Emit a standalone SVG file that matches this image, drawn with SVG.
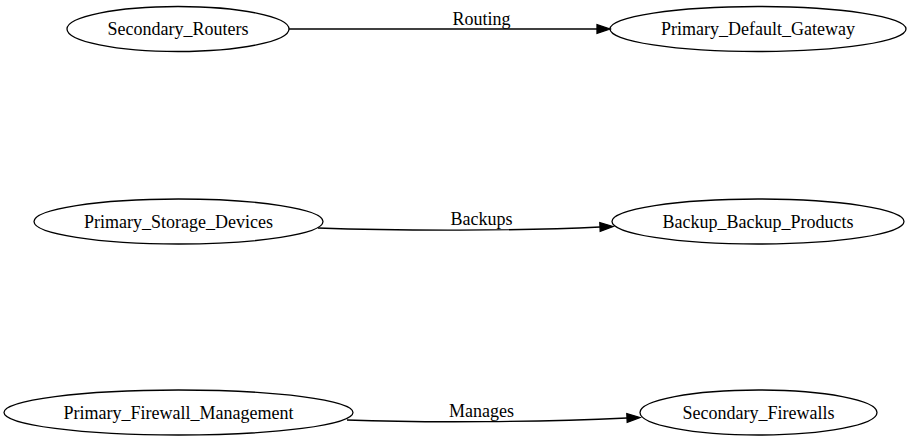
<svg xmlns="http://www.w3.org/2000/svg" width="911" height="443" viewBox="0 0 911 443">
  <style>
    .node ellipse { fill: none; stroke: #000; stroke-width: 1.3; }
    .node text, .edge text { font-family: "Liberation Serif", "Times New Roman", serif; font-size: 18px; fill: #000; text-anchor: middle; }
    .edge path { fill: none; stroke: #000; stroke-width: 1.3; }
    .edge polygon { fill: #000; stroke: #000; stroke-width: 1.3; }
  </style>
  <rect width="911" height="443" fill="#fff"/>

  <g id="edges">
    <g class="edge" id="e_routing">
      <path d="M289,29 L597,29"/>
      <polygon points="597,24.6 610,29 597,33.4"/>
      <text x="481.5" y="25">Routing</text>
    </g>
    <g class="edge" id="e_backups">
      <path d="M318,228 C400,231 520,231 600,227"/>
      <polygon points="599.8,222.6 613,226.5 600.2,231.4"/>
      <text x="481.5" y="225">Backups</text>
    </g>
    <g class="edge" id="e_manages">
      <path d="M347,420 C430,423 540,422 627,418"/>
      <polygon points="626.8,413.6 640,417.5 627.2,422.4"/>
      <text x="481.5" y="416.5">Manages</text>
    </g>
  </g>

  <g class="node" id="Secondary_Routers">
    <ellipse cx="178" cy="29" rx="111" ry="22.5"/>
    <text x="178" y="35">Secondary_Routers</text>
  </g>
  <g class="node" id="Primary_Default_Gateway">
    <ellipse cx="758" cy="29" rx="148" ry="22.5"/>
    <text x="758" y="35">Primary_Default_Gateway</text>
  </g>
  <g class="node" id="Primary_Storage_Devices">
    <ellipse cx="178.5" cy="221.5" rx="144.5" ry="22.5"/>
    <text x="178.5" y="227.5">Primary_Storage_Devices</text>
  </g>
  <g class="node" id="Backup_Backup_Products">
    <ellipse cx="758" cy="221.5" rx="146" ry="22.5"/>
    <text x="758" y="227.5">Backup_Backup_Products</text>
  </g>
  <g class="node" id="Primary_Firewall_Management">
    <ellipse cx="178.5" cy="412.5" rx="174.5" ry="22.5"/>
    <text x="178.5" y="418.5">Primary_Firewall_Management</text>
  </g>
  <g class="node" id="Secondary_Firewalls">
    <ellipse cx="758.5" cy="412.5" rx="118.5" ry="22.5"/>
    <text x="758.5" y="418.5">Secondary_Firewalls</text>
  </g>
</svg>
